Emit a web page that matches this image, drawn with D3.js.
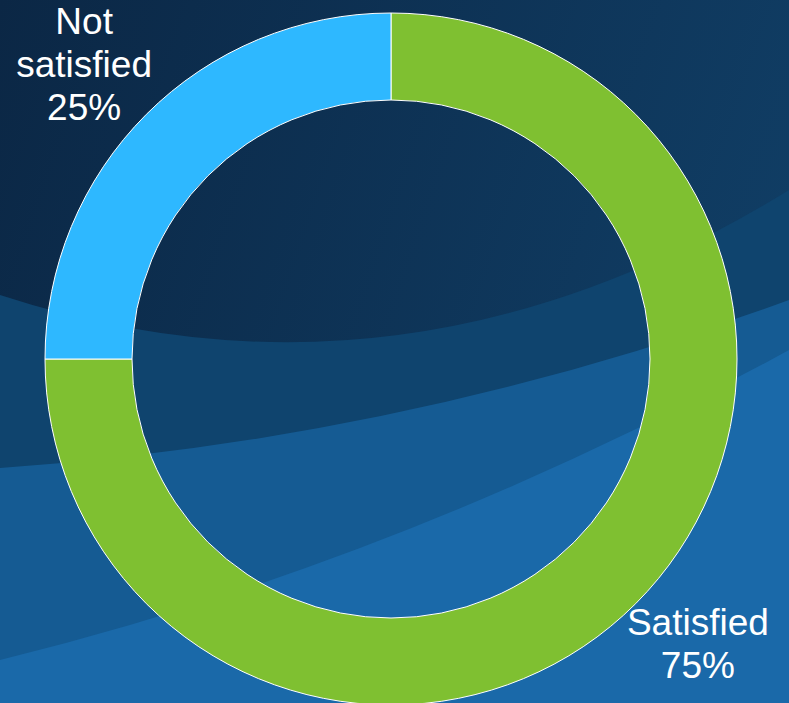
<!DOCTYPE html>
<html>
<head>
<meta charset="UTF-8">
<title>Satisfaction</title>
<script src="https://cdn.jsdelivr.net/npm/d3@7"></script>
<style>
  html, body { margin: 0; padding: 0; overflow: hidden; }
  svg { display: block; }
  .label text { font-family: Arial, "Liberation Sans", sans-serif; font-size: 37px; fill: #fff; }
</style>
</head>
<body>
<svg width="789" height="703"></svg>
<script>
// chart data
var categories = ["Satisfied", "Not satisfied"];
var values = [75, 25];
var colors = ["#7fc031", "#2eb8ff"];

var svg = d3.select("svg"),
    width = +svg.attr("width"),
    height = +svg.attr("height");

// background: dark blue with soft swooshes
var defs = svg.append("defs");
var bg = defs.append("linearGradient").attr("id", "bg")
    .attr("x1", 0).attr("y1", 0).attr("x2", 1).attr("y2", 0.3);
bg.append("stop").attr("offset", "0%").attr("stop-color", "#0b2745");
bg.append("stop").attr("offset", "100%").attr("stop-color", "#103d64");

svg.append("rect").attr("width", width).attr("height", height).attr("fill", "url(#bg)");

var bands = [
  {d: "M0,295 Q405,427 789,190 L789,703 L0,703 Z", c: "#0f446e"},
  {d: "M0,468 Q406,440 789,300 L789,703 L0,703 Z", c: "#155b93"},
  {d: "M0,660 Q406,560 789,350 L789,703 L0,703 Z", c: "#1a69a9"}
];
svg.append("g").selectAll("path").data(bands).enter().append("path")
    .attr("d", function(d) { return d.d; })
    .attr("fill", function(d) { return d.c; });

// donut
var cx = 391, cy = 359, outerR = 346, innerR = 259;

var pie = d3.pie().sort(null).value(function(d) { return d.value; });
var data = pie(categories.map(function(c, i) { return {name: c, value: values[i], color: colors[i]}; }));

var arc = d3.arc().innerRadius(innerR).outerRadius(outerR);
var labelArc = d3.arc().innerRadius(434).outerRadius(434);

var g = svg.append("g").attr("transform", "translate(" + cx + "," + cy + ")");

g.selectAll("path.slice").data(data).enter().append("path")
    .attr("class", "slice")
    .attr("d", arc)
    .attr("fill", function(d) { return d.data.color; })
    .attr("stroke", "#fff")
    .attr("stroke-width", 1);

var total = d3.sum(values);
var lineH = 43;

// labels at the outside of each slice, kept inside the picture
g.append("g").attr("class", "label").selectAll("text").data(data).enter().append("text")
    .attr("text-anchor", "middle")
    .each(function(d) {
      var p = labelArc.centroid(d);
      var lines = d.data.name.split(" ").concat([Math.round(d.data.value / total * 100) + "%"]);
      var top = p[1] - (lines.length - 1) * lineH / 2 + 12;
      var t = d3.select(this);
      lines.forEach(function(s, i) {
        t.append("tspan").attr("x", p[0]).attr("y", top + i * lineH).text(s);
      });
      var b = this.getBBox();
      var dx = 0, dy = 0;
      if (cx + b.x < 4) dx = 4 - (cx + b.x);
      if (cx + b.x + b.width > width - 15) dx = width - 15 - (cx + b.x + b.width);
      if (cy + b.y < 1) dy = 1 - (cy + b.y);
      if (cy + b.y + b.height > height - 17) dy = height - 17 - (cy + b.y + b.height);
      t.attr("transform", "translate(" + dx + "," + dy + ")");
    });
</script>
</body>
</html>
